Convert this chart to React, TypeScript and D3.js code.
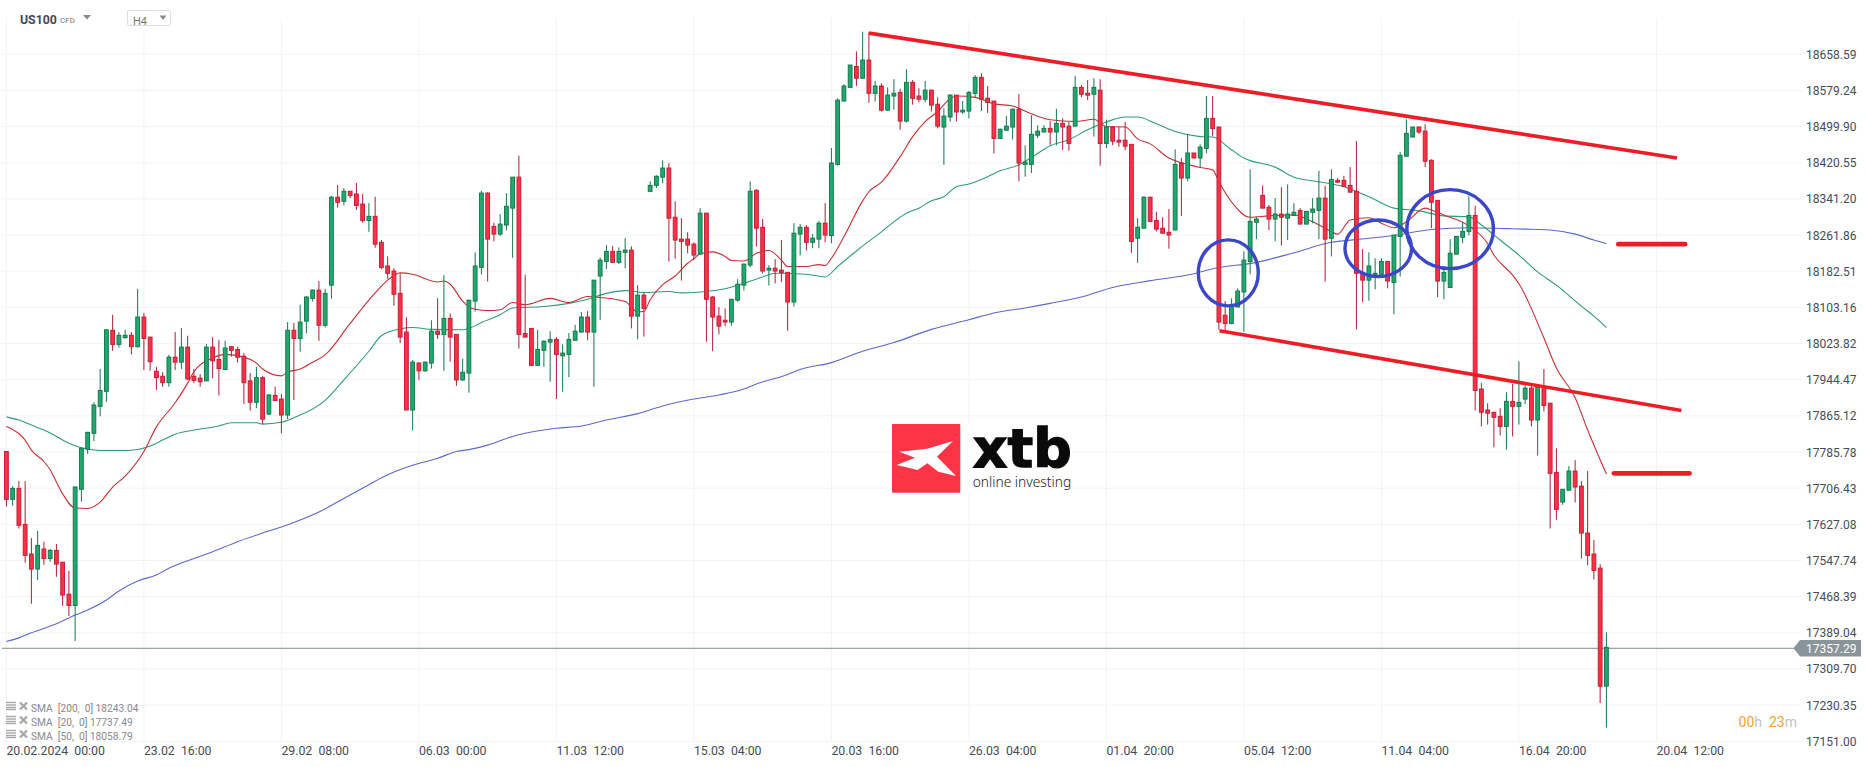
import React, { useEffect, useRef } from "react";
import * as d3 from "d3";

const width = 1866;
const height = 767;

// H4 candles, one value per bar
const opens = [
  17787,17682,17706,17627,17562,17529,17573,17552,17570,17544,
  17474,17449,17704,17792,17827,17886,17919,18053,18022,18037,
  18042,18017,18082,18038,17963,17952,17938,17994,17983,18016,
  17952,17948,17942,18016,17989,17967,18017,18011,17996,17942,
  17895,17949,17869,17910,17902,17867,18053,18035,18073,18123,
  18141,18064,18152,18345,18336,18358,18352,18330,18294,18303,
  18246,18194,18183,18134,18049,17878,17981,17964,17981,18051,
  18044,18079,18044,17944,17959,18117,18191,18354,18281,18264,
  18284,18321,18389,18046,18057,17976,18009,18027,18033,17997,
  18000,18031,18049,18082,18049,18172,18204,18226,18202,18224,
  18229,18084,18130,18358,18371,18389,18409,18301,18253,18253,
  18242,18220,18310,18126,18084,18075,18071,18119,18152,18196,
  18360,18279,18185,18189,18185,18180,18115,18264,18279,18246,
  18253,18288,18261,18417,18556,18586,18632,18606,18646,18573,
  18589,18536,18567,18575,18512,18597,18567,18560,18580,18549,
  18499,18521,18569,18532,18534,18573,18608,18562,18556,18474,
  18492,18499,18538,18417,18417,18481,18488,18496,18488,18507,
  18501,18501,18586,18573,18571,18580,18463,18499,18470,18470,
  18461,18255,18277,18345,18294,18277,18268,18273,18420,18387,
  18442,18431,18452,18518,18499,18086,18068,18104,18137,18204,
  18290,18349,18323,18297,18308,18299,18305,18316,18286,18312,
  18316,18343,18255,18382,18382,18371,18358,18180,18163,18174,
  18176,18204,18158,18259,18435,18477,18499,18490,18426,18338,
  18161,18147,18220,18257,18270,18305,17924,17878,17873,17864,
  17842,17897,17886,17902,17926,17856,17929,17893,17741,17676,
  17702,17744,17711,17608,17562,17531,17272,
];
const highs = [
  17787,17711,17722,17722,17597,17613,17589,17573,17584,17544,
  17525,17710,17796,17830,17895,17968,18055,18087,18049,18054,
  18049,18144,18091,18038,17973,17961,17999,18049,18058,18041,
  17968,17957,18023,18038,18032,18030,18017,18017,18003,17959,
  17973,17953,17913,17929,17913,18071,18069,18109,18128,18143,
  18161,18144,18348,18372,18365,18358,18376,18352,18332,18346,
  18251,18215,18189,18178,18082,17988,17983,17985,18075,18123,
  18174,18090,18044,17990,18120,18224,18359,18356,18289,18308,
  18354,18389,18436,18175,18057,18054,18031,18051,18038,18022,
  18047,18065,18093,18095,18163,18213,18240,18238,18235,18255,
  18237,18152,18136,18380,18393,18426,18420,18336,18299,18268,
  18246,18321,18310,18128,18104,18101,18121,18165,18200,18380,
  18363,18297,18196,18209,18251,18180,18288,18286,18284,18264,
  18293,18332,18453,18562,18593,18635,18665,18708,18707,18600,
  18595,18586,18604,18583,18626,18602,18584,18600,18580,18564,
  18540,18571,18569,18556,18578,18613,18617,18589,18556,18496,
  18523,18540,18571,18459,18525,18503,18503,18512,18539,18518,
  18510,18611,18591,18602,18606,18604,18515,18501,18499,18510,
  18461,18299,18347,18345,18313,18301,18319,18450,18431,18483,
  18442,18461,18567,18567,18499,18117,18123,18145,18226,18406,
  18302,18371,18328,18343,18367,18373,18332,18321,18314,18343,
  18403,18370,18406,18387,18392,18411,18468,18231,18224,18211,
  18211,18204,18262,18444,18516,18499,18499,18505,18428,18338,
  18194,18253,18259,18290,18347,18326,17937,17893,17873,17882,
  17917,17935,17985,17932,17937,17929,17968,17893,17794,17704,
  17755,17768,17722,17744,17593,17540,17390,
];
const lows = [
  17666,17668,17618,17543,17453,17505,17538,17545,17512,17448,
  17426,17371,17677,17782,17810,17864,17896,18008,18015,18034,
  18000,18015,17966,17964,17922,17929,17929,17966,17968,17944,
  17937,17929,17942,17948,17910,17967,17995,17982,17891,17877,
  17882,17847,17867,17899,17827,17858,17900,18006,18046,18116,
  18030,18059,18122,18322,18327,18343,18317,18289,18269,18234,
  18187,18166,18107,18025,17878,17833,17944,17962,17969,18034,
  17964,17984,17931,17942,17916,18094,18175,18160,18248,18260,
  18272,18212,18013,18038,17976,17976,17973,17940,17902,17918,
  17950,18031,18049,18031,17929,18076,18187,18202,18198,18189,
  18057,18033,18039,18356,18365,18376,18204,18210,18162,18222,
  18207,18220,18028,18007,18044,18062,18063,18116,18140,18191,
  18237,18178,18151,18156,18159,18052,18105,18217,18228,18233,
  18233,18246,18244,18414,18556,18586,18589,18606,18552,18555,
  18533,18534,18537,18493,18509,18548,18553,18553,18533,18496,
  18416,18511,18511,18528,18518,18564,18534,18530,18441,18474,
  18492,18472,18380,18390,18398,18475,18488,18460,18459,18449,
  18447,18501,18564,18558,18478,18414,18453,18459,18456,18448,
  18223,18201,18277,18292,18270,18266,18232,18273,18304,18380,
  18431,18411,18441,18479,18054,18054,18066,18104,18050,18176,
  18253,18321,18273,18248,18239,18251,18305,18286,18286,18288,
  18253,18160,18215,18376,18369,18356,18055,18115,18118,18143,
  18176,18145,18088,18171,18435,18477,18484,18411,18277,18126,
  18121,18147,18220,18244,18261,17877,17842,17846,17796,17822,
  17791,17820,17846,17891,17842,17778,17875,17618,17637,17670,
  17702,17675,17552,17537,17506,17235,17181,
];
const closes = [
  17682,17706,17625,17559,17529,17581,17552,17570,17540,17472,
  17449,17709,17794,17829,17889,17921,18054,18022,18042,18042,
  18017,18082,18035,17984,17949,17938,17994,17983,18016,17946,
  17943,17940,18016,17986,17969,18014,18009,17994,17938,17895,
  17949,17858,17911,17899,17867,18053,18035,18071,18126,18141,
  18064,18134,18345,18334,18358,18349,18327,18294,18303,18242,
  18191,18178,18132,18038,17878,17983,17964,17983,18051,18044,
  18079,18038,17944,17961,18119,18194,18354,18253,18264,18286,
  18325,18389,18044,18038,17976,18011,18029,18033,18000,18003,
  18033,18051,18082,18049,18163,18207,18226,18202,18226,18229,
  18084,18130,18101,18371,18391,18409,18299,18251,18248,18240,
  18218,18310,18121,18082,18062,18071,18121,18154,18198,18358,
  18277,18183,18189,18183,18180,18115,18266,18279,18246,18255,
  18288,18262,18420,18558,18589,18635,18606,18646,18573,18589,
  18536,18569,18573,18512,18597,18562,18560,18580,18547,18501,
  18523,18569,18532,18536,18575,18608,18560,18553,18474,18494,
  18501,18538,18420,18422,18483,18490,18496,18488,18507,18499,
  18463,18586,18571,18569,18586,18463,18499,18468,18466,18457,
  18248,18279,18345,18292,18275,18266,18262,18417,18387,18442,
  18431,18455,18518,18496,18071,18068,18106,18139,18207,18292,
  18297,18321,18297,18308,18301,18308,18312,18286,18314,18319,
  18343,18253,18384,18378,18369,18356,18178,18163,18194,18178,
  18204,18161,18262,18437,18485,18499,18488,18424,18334,18161,
  18180,18222,18259,18270,18305,17921,17873,17871,17862,17842,
  17897,17886,17895,17926,17856,17929,17888,17739,17660,17704,
  17744,17709,17608,17559,17526,17272,17357.29,
];

// SMA readings, as [bar, price]
const sma20: [number, number][] = [
  [0,17842],[2,17826],[3,17812],[4,17790],[6,17765],[7,17747],[8,17720],[9,17694],[11,17663],[13,17662],
  [15,17676],[17,17709],[19,17733],[22,17787],[24,17841],[27,17894],[29,17937],[30,17962],[33,17992],[35,18000],
  [38,17994],[40,17981],[41,17968],[44,17953],[45,17961],[47,17968],[49,17983],[51,17999],[55,18068],[59,18135],
  [61,18163],[63,18179],[65,18176],[69,18159],[70,18161],[71,18154],[73,18117],[74,18104],[75,18099],[77,18096],
  [79,18098],[81,18114],[83,18109],[87,18123],[90,18114],[93,18127],[95,18125],[99,18116],[101,18093],[102,18094],
  [103,18120],[105,18153],[107,18172],[109,18200],[110,18210],[111,18221],[113,18225],[115,18215],[116,18206],[118,18205],
  [120,18222],[122,18228],[124,18207],[125,18193],[128,18193],[130,18197],[131,18195],[132,18211],[134,18258],[137,18337],
  [138,18357],[140,18378],[143,18434],[145,18478],[147,18511],[149,18533],[151,18561],[152,18567],[155,18564],[158,18550],
  [161,18545],[164,18528],[167,18515],[171,18511],[174,18516],[176,18500],[179,18499],[181,18473],[183,18462],[186,18431],
  [189,18417],[191,18410],[193,18405],[194,18379],[196,18335],[199,18301],[202,18304],[206,18306],[209,18291],[211,18277],
  [213,18264],[215,18295],[218,18300],[220,18288],[222,18278],[224,18291],[227,18321],[228,18317],[230,18306],[234,18282],
  [237,18243],[238,18218],[241,18174],[242,18155],[246,18036],[248,17970],[251,17905],[253,17834],[255,17769],[256,17737.49],
];
const sma50: [number, number][] = [
  [0,17863],[2,17856],[4,17845],[6,17834],[8,17820],[10,17805],[12,17795],[15,17789],[19,17789],[23,17799],
  [25,17812],[27,17825],[30,17834],[34,17843],[36,17850],[40,17850],[41,17847],[44,17851],[46,17861],[51,17899],
  [54,17944],[58,18007],[60,18041],[63,18056],[65,18059],[68,18055],[73,18054],[74,18057],[76,18070],[79,18087],
  [81,18102],[86,18105],[90,18112],[93,18121],[96,18134],[99,18140],[102,18136],[106,18138],[108,18135],[111,18137],
  [115,18144],[118,18156],[121,18170],[123,18178],[128,18176],[131,18170],[133,18193],[136,18227],[140,18269],[144,18310],
  [146,18321],[148,18337],[150,18346],[152,18368],[154,18374],[157,18390],[159,18403],[162,18416],[164,18432],[167,18458],
  [170,18471],[173,18493],[176,18510],[179,18521],[181,18521],[184,18506],[187,18489],[191,18478],[193,18477],[196,18449],
  [198,18431],[203,18411],[206,18389],[210,18379],[214,18368],[218,18346],[222,18321],[226,18315],[230,18304],[234,18302],
  [236,18284],[239,18251],[242,18218],[245,18181],[248,18152],[252,18106],[254,18084],[256,18058.79],
];
const sma200: [number, number][] = [
  [0,17370],[2,17378],[4,17389],[8,17409],[11,17428],[13,17439],[16,17461],[18,17481],[21,17503],[24,17516],
  [26,17531],[29,17547],[33,17567],[37,17589],[41,17608],[45,17626],[50,17654],[54,17684],[58,17714],[61,17736],
  [65,17757],[69,17772],[72,17787],[74,17791],[77,17801],[81,17820],[83,17827],[88,17838],[92,17843],[96,17856],
  [101,17870],[105,17887],[110,17902],[114,17911],[118,17924],[120,17935],[125,17956],[127,17967],[132,17982],[137,18007],
  [142,18026],[148,18055],[154,18076],[158,18091],[163,18102],[167,18112],[172,18126],[177,18147],[183,18162],[190,18177],
  [193,18188],[200,18202],[206,18223],[212,18246],[216,18252],[222,18261],[228,18274],[234,18278],[240,18276],[243,18275],
  [247,18273],[251,18264],[254,18251],[256,18243.04],
];

const priceTicks = [
  18658.59,18579.24,18499.90,18420.55,18341.20,18261.86,18182.51,18103.16,18023.82,17944.47,
  17865.12,17785.78,17706.43,17627.08,17547.74,17468.39,17389.04,17309.70,17230.35,17151.00,
];
const timeLabels = [
  "20.02.2024  00:00","23.02  16:00","29.02  08:00","06.03  00:00","11.03  12:00","15.03  04:00","20.03  16:00",
  "26.03  04:00","01.04  20:00","05.04  12:00","11.04  04:00","16.04  20:00","20.04  12:00",
];
const barsPerLabel = 22;
const lastPrice = 17357.29;
const legendRows = ["SMA  [200,  0] 18243.04","SMA  [20,  0] 17737.49","SMA  [50,  0] 18058.79"];

// hand drawn marks on the chart, in [bar, price]
const channelLines: [number, number][][] = [
  [[138,18705],[267.3,18431]],
  [[194.1,18052],[268,17877]],
];
const levels: [number, number][][] = [
  [[257.9,18242],[268.6,18242]],
  [[257.2,17739],[269.3,17739]],
];
const circles = [
  { bar: 195.5, price: 18179, rx: 30, ry: 33 },
  { bar: 219.5, price: 18233, rx: 33.3, ry: 28.3 },
  { bar: 231, price: 18275, rx: 43.3, ry: 39.5 },
];

const font = "Roboto, sans-serif";

export default function App() {
  const svgRef = useRef<SVGSVGElement>(null);

  useEffect(() => {
    document.body.style.margin = "0";
    const svg = d3.select(svgRef.current);
    svg.selectAll("*").remove();

    const x = d3.scaleLinear().domain([0, 264]).range([6.4, 1656.4]);
    const y = d3.scaleLinear().domain([17151, 18658.59]).range([741.3, 54.3]);
    const gridColor = "#f2f3f5";

    // grid
    svg.append("g").selectAll("line").data(priceTicks).join("line")
      .attr("x1", 2).attr("x2", 1802)
      .attr("y1", (d) => y(d)).attr("y2", (d) => y(d))
      .attr("stroke", gridColor).attr("stroke-width", 1);
    svg.append("g").selectAll("line").data(timeLabels).join("line")
      .attr("x1", (_, i) => x(i * barsPerLabel)).attr("x2", (_, i) => x(i * barsPerLabel))
      .attr("y1", 18).attr("y2", 741.3)
      .attr("stroke", gridColor).attr("stroke-width", 1);

    // price labels
    svg.append("g").selectAll("text").data(priceTicks).join("text")
      .attr("x", 1806).attr("y", (d) => y(d) + 4.5)
      .attr("font-family", font).attr("font-size", 12).attr("fill", "#454d55")
      .text((d) => d.toFixed(2));

    // time labels
    svg.append("g").selectAll("text").data(timeLabels).join("text")
      .attr("x", (_, i) => x(i * barsPerLabel)).attr("y", 755)
      .attr("font-family", font).attr("font-size", 12.3).attr("fill", "#454d55")
      .style("white-space", "pre")
      .text((d) => d);

    // moving averages go under the candles
    const line = d3.line<[number, number]>().x((d) => x(d[0])).y((d) => y(d[1])).curve(d3.curveMonotoneX);
    const smas: [[number, number][], string][] = [[sma200, "#5b68cd"], [sma50, "#2f9c78"], [sma20, "#c92f33"]];
    smas.forEach(([data, color]) => {
      svg.append("path").attr("d", line(data)).attr("fill", "none")
        .attr("stroke", color).attr("stroke-width", 1.1);
    });

    // current price line
    svg.append("line")
      .attr("x1", 2).attr("x2", 1794)
      .attr("y1", y(lastPrice) + 1).attr("y2", y(lastPrice) + 1)
      .attr("stroke", "#7f8b8f").attr("stroke-width", 1);

    // candles
    const candles = closes.map((c, i) => ({ i, o: opens[i], h: highs[i], l: lows[i], c }));
    const up = (d: any) => d.c >= d.o;
    const g = svg.append("g");
    g.selectAll("line").data(candles).join("line")
      .attr("x1", (d) => x(d.i)).attr("x2", (d) => x(d.i))
      .attr("y1", (d) => y(d.h)).attr("y2", (d) => y(d.l))
      .attr("stroke", (d) => (up(d) ? "#12774c" : "#ad1d33")).attr("stroke-width", 1);
    g.selectAll("rect").data(candles).join("rect")
      .attr("x", (d) => x(d.i) - 1.9).attr("width", 3.8)
      .attr("y", (d) => y(Math.max(d.o, d.c)))
      .attr("height", (d) => Math.max(1, Math.abs(y(d.o) - y(d.c))))
      .attr("fill", (d) => (up(d) ? "#20a96f" : "#fd3044"))
      .attr("stroke", (d) => (up(d) ? "#16794f" : "#c0203a")).attr("stroke-width", 1);

    // drawn trend channel, levels and circles
    const marks = d3.line<[number, number]>().x((d) => x(d[0])).y((d) => y(d[1]));
    channelLines.forEach((d) => {
      svg.append("path").attr("d", marks(d)).attr("fill", "none")
        .attr("stroke", "#ee1c25").attr("stroke-width", 3.6);
    });
    levels.forEach((d) => {
      svg.append("path").attr("d", marks(d)).attr("fill", "none")
        .attr("stroke", "#ee1c25").attr("stroke-width", 4.6).attr("stroke-linecap", "round");
    });
    svg.append("g").selectAll("ellipse").data(circles).join("ellipse")
      .attr("cx", (d) => x(d.bar)).attr("cy", (d) => y(d.price))
      .attr("rx", (d) => d.rx).attr("ry", (d) => d.ry)
      .attr("fill", "none").attr("stroke", "#3b46c8").attr("stroke-width", 3.4);

    // last price tag
    const ly = y(lastPrice) + 1;
    svg.append("path")
      .attr("d", `M1793.5,${ly}L1800,${ly - 8.3}H1861V${ly + 8.3}H1800Z`)
      .attr("fill", "#8a9599");
    svg.append("text").attr("x", 1806).attr("y", ly + 5)
      .attr("font-family", font).attr("font-size", 12).attr("fill", "#fff")
      .text(lastPrice.toFixed(2));

    // countdown
    const timer = svg.append("text").attr("x", 1797).attr("y", 727).attr("text-anchor", "end")
      .attr("font-family", font).attr("font-size", 14).style("white-space", "pre");
    timer.append("tspan").attr("fill", "#f7a229").text("00");
    timer.append("tspan").attr("fill", "#bfc3c6").text("h  ");
    timer.append("tspan").attr("fill", "#f7a229").text("23");
    timer.append("tspan").attr("fill", "#bfc3c6").text("m");

    // SMA legend
    legendRows.forEach((row, i) => {
      const ry = 707.5 + i * 14;
      const ic = svg.append("g").attr("stroke", "#a8a8a8").attr("fill", "none");
      [-4, -1.5, 1, 3].forEach((o) => {
        ic.append("line").attr("x1", 6).attr("x2", 16).attr("y1", ry - 1 + o).attr("y2", ry - 1 + o).attr("stroke-width", 1.4);
      });
      ic.append("path")
        .attr("d", `M20,${ry - 5}L27,${ry + 2}M27,${ry - 5}L20,${ry + 2}`)
        .attr("stroke-width", 2.4);
      svg.append("text").attr("x", 31).attr("y", ry + 4)
        .attr("font-family", font).attr("font-size", 10.2).attr("fill", "#8a8a8a")
        .style("white-space", "pre")
        .text(row);
    });

    // header
    svg.append("rect").attr("x", 127).attr("y", 0).attr("width", 45).attr("height", 32).attr("fill", "#fff");
    svg.append("text").attr("x", 20).attr("y", 24)
      .attr("font-family", font).attr("font-size", 12.3).attr("font-weight", 700).attr("fill", "#3f4a54")
      .text("US100");
    svg.append("text").attr("x", 60).attr("y", 22.5)
      .attr("font-family", font).attr("font-size", 8).attr("fill", "#777")
      .text("CFD");
    svg.append("path").attr("d", "M83,15H91L87,19.5Z").attr("fill", "#8a8a8a");
    svg.append("rect").attr("x", 127.5).attr("y", 10.5).attr("width", 43).attr("height", 15).attr("rx", 1.5)
      .attr("fill", "#fff").attr("stroke", "#dcdfe1");
    svg.append("text").attr("x", 133).attr("y", 24.5)
      .attr("font-family", font).attr("font-size", 11).attr("fill", "#777")
      .text("H4");
    svg.append("path").attr("d", "M159.5,15.5H166.5L163,20Z").attr("fill", "#8a8a8a");

    // logo
    const logo = svg.append("g").attr("transform", "translate(870,410)");
    logo.append("rect").attr("x", 22).attr("y", 14).attr("width", 180).attr("height", 69).attr("fill", "#fff");
    logo.append("rect").attr("x", 22).attr("y", 14).attr("width", 68.3).attr("height", 68.7).attr("rx", 1).attr("fill", "#fc3445");
    logo.append("path")
      .attr("d", "M83,31L67,46.7L86,66L68.3,61.7L57.3,53.3L47.7,60L26.7,55L45,47.7L29.3,41.7L57.3,38.7Z")
      .attr("fill", "#fff");
    logo.append("text").attr("x", 102.7).attr("y", 57.3)
      .attr("font-family", "DejaVu Sans").attr("font-weight", 700).attr("font-size", 54)
      .attr("textLength", 99).attr("lengthAdjust", "spacingAndGlyphs").attr("fill", "#0a0a0a")
      .attr("stroke", "#0a0a0a").attr("stroke-width", 1.3)
      .text("xtb");
    logo.append("text").attr("x", 102.7).attr("y", 76.5)
      .attr("font-family", "Noto Sans").attr("font-weight", 300).attr("font-size", 14)
      .attr("textLength", 98.5).attr("lengthAdjust", "spacingAndGlyphs").attr("fill", "#222")
      .text("online investing");
  }, []);

  return <svg ref={svgRef} width={width} height={height} style={{ display: "block", background: "#fff" }} />;
}
